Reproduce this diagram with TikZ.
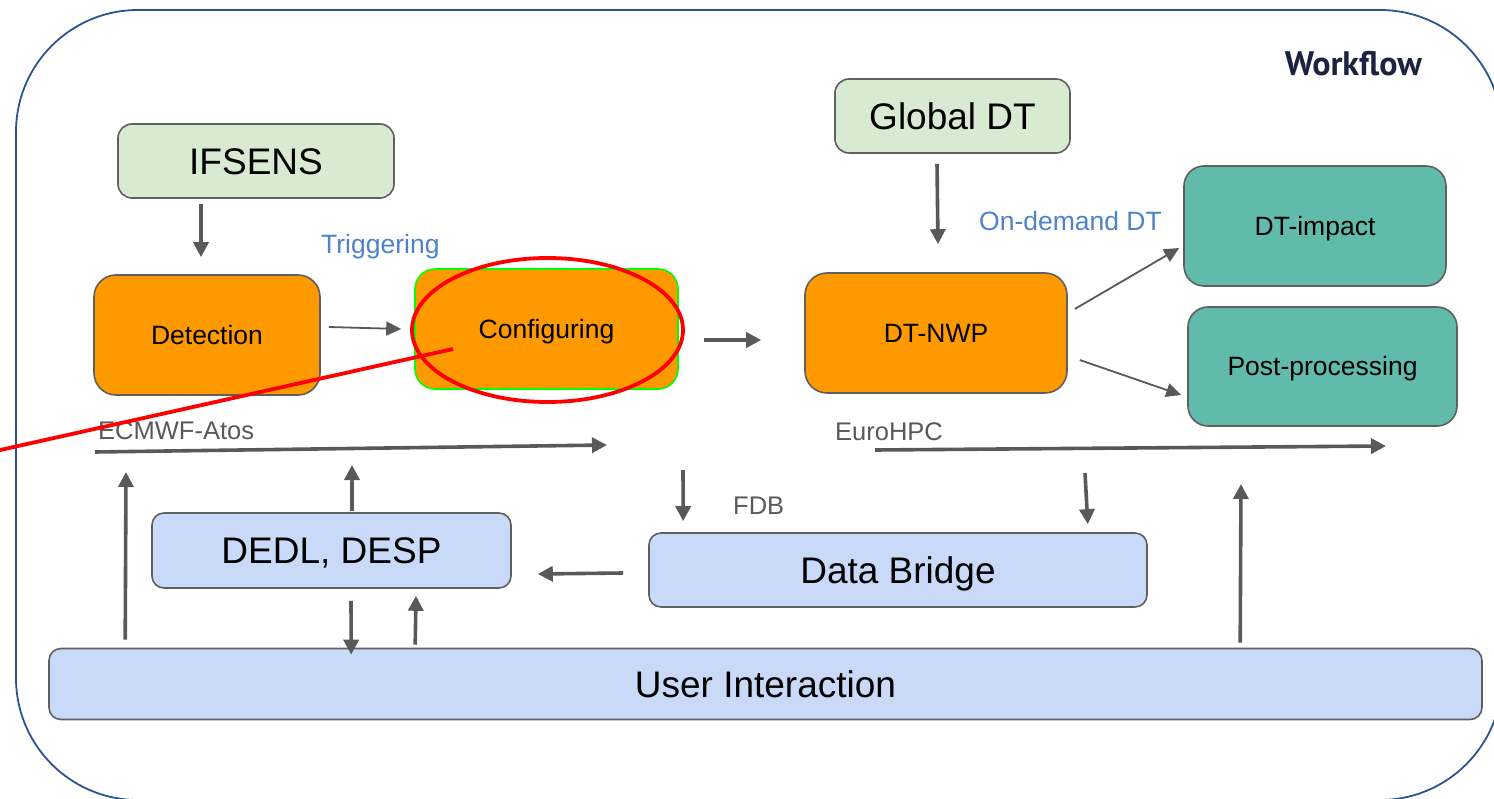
\documentclass[tikz,border=0pt]{standalone}
\usepackage{fontspec}
\setmainfont{Liberation Sans}
\newfontfamily\headfont{PT Sans}
\usetikzlibrary{arrows.meta,calc}

\definecolor{frameblue}{HTML}{2A5590}
\definecolor{boxline}{HTML}{5F5F5F}
\definecolor{arrgrey}{HTML}{595959}
\definecolor{lightgreen}{HTML}{D9EAD3}
\definecolor{orangefill}{HTML}{FF9900}
\definecolor{tealfill}{HTML}{61BBAB}
\definecolor{bluefill}{HTML}{C9DAF8}
\definecolor{labelblue}{HTML}{4F83C4}
\definecolor{titlenavy}{HTML}{1C2340}
\definecolor{markred}{HTML}{FF0000}
\definecolor{brightgreen}{HTML}{00FF00}

\begin{document}
\begin{tikzpicture}[x=1pt,y=-1pt,
  box/.style={draw=boxline, line width=1.6pt, rounded corners=14pt, inner sep=0pt,
              text=black, text depth=0pt},
  bigtxt/.style={font=\fontsize{37}{40}\selectfont, text height=26.5pt},
  smalltxt/.style={font=\fontsize{26.5}{30}\selectfont, text height=19pt},
  lbl/.style={inner sep=0pt, text depth=0pt},
  bluelbl/.style={lbl, text=labelblue, font=\fontsize{26.5}{30}\selectfont, text height=19pt},
  greylbl/.style={lbl, text=arrgrey, font=\fontsize{25.5}{30}\selectfont, text height=18.3pt},
  thickarr/.style={draw=arrgrey, line width=3.6pt,
                   -{Triangle[length=15pt,width=15pt]}},
  thinarr/.style={draw=arrgrey, line width=1.8pt,
                  -{Triangle[length=15pt,width=14pt]}},
  redmark/.style={draw=markred, line width=3.8pt}
]
\useasboundingbox (0,0) rectangle (1494,799);
\clip (0,0) rectangle (1494,799);

% outer frame
\draw[frameblue, line width=1.8pt, rounded corners=122pt] (16,10) rectangle (1502,800);

% title
\node[lbl, anchor=east, text=titlenavy, text height=23.8pt,
      font=\headfont\bfseries\fontsize{34}{36}\selectfont]
  (title) at (1422,64) {Workflow};

% boxes
\node[box, bigtxt, fill=lightgreen, minimum width=276pt, minimum height=74pt]
  (ifsens) at (256,161) {IFSENS};
\node[box, bigtxt, fill=lightgreen, minimum width=235pt, minimum height=74pt]
  (gdt) at (952.5,116) {Global DT};
\node[box, smalltxt, fill=orangefill, rounded corners=22pt, minimum width=226pt, minimum height=120pt]
  (det) at (207,335) {Detection};
\node[box, smalltxt, fill=orangefill, draw=brightgreen, rounded corners=20pt, minimum width=263pt, minimum height=120pt]
  (conf) at (546.5,329) {Configuring};
\node[box, smalltxt, fill=orangefill, rounded corners=22pt, minimum width=262pt, minimum height=120pt]
  (nwp) at (936,333) {DT-NWP};
\node[box, smalltxt, fill=tealfill, rounded corners=20pt, minimum width=262pt, minimum height=120pt]
  (impact) at (1315,226) {DT-impact};
\node[box, smalltxt, fill=tealfill, rounded corners=20pt, minimum width=269pt, minimum height=119pt]
  (post) at (1322.5,366.5) {Post-processing};
\node[box, bigtxt, fill=bluefill, rounded corners=12pt, minimum width=359pt, minimum height=75pt]
  (dedl) at (331.5,550.5) {DEDL, DESP};
\node[box, bigtxt, fill=bluefill, rounded corners=12pt, minimum width=498pt, minimum height=74pt]
  (db) at (898,570) {Data Bridge};
\node[box, bigtxt, fill=bluefill, rounded corners=12pt, minimum width=1433pt, minimum height=71pt]
  (ui) at (765.5,684) {User Interaction};

% labels
\node[bluelbl, anchor=west] (trig) at (321,244.5) {Triggering};
\node[bluelbl, anchor=west] (ondemand) at (979,221) {On-demand DT};
\node[greylbl, anchor=west] (ecmwf) at (98,430.5) {ECMWF-Atos};
\node[greylbl, anchor=west] (eurohpc) at (835,431) {EuroHPC};
\node[greylbl, anchor=west] (fdb) at (733,505.5) {FDB};

% free ends of connectors
\coordinate (ecA) at (95,452);
\coordinate (ecB) at (607,445);
\coordinate (euA) at (875,450);
\coordinate (euB) at (1386,446);
\coordinate (upA) at (126,472);
\coordinate (upB) at (352,465);
\coordinate (fdbtop) at (683,470);
\coordinate (hpctop) at (1085,473);
\coordinate (upC) at (1241,484);

% connectors
\draw[thickarr] ($(ifsens.south)+(-55,5)$) -- ($(det.north)+(-6,-17)$);
\draw[thinarr]  ($(det.east)+(8,-8)$) -- ($(conf.west)+(-13,0)$);
\draw[thickarr] ($(conf.east)+(25,11)$) -- ($(nwp.west)+(-43,7)$);
\draw[thickarr] ($(gdt.south)+(-15.5,10)$) -- ($(nwp.north)+(2,-28)$);
\draw[thinarr]  ($(nwp.east)+(7,-24)$) -- ($(impact.west)+(-4,22)$);
\draw[thinarr]  ($(nwp.east)+(12,27)$) -- ($(post.west)+(-6,28.5)$);
\draw[thickarr] (ecA) -- (ecB);
\draw[thickarr] (euA) -- (euB);
\draw[thickarr] ($(ui.north west)+(77,-8)$) -- (upA);
\draw[thickarr] ($(dedl.north)+(20.5,-1)$) -- (upB);
\draw[thickarr] ($(dedl.south)+(19.5,12)$) -- ($(ui.north west)+(303,7)$);
\draw[thickarr] ($(ui.north west)+(367,-3)$) -- ($(dedl.south)+(84.5,7)$);
\draw[thickarr] (fdbtop) -- ($(db.north west)+(35,-11)$);
\draw[thickarr] ($(db.west)+(-25,3)$) -- ($(dedl.east)+(26,23.5)$);
\draw[thickarr] (hpctop) -- ($(db.north east)+(-60,-8)$);
\draw[thickarr] ($(ui.north west)+(1192,-5)$) -- (upC);

% red highlight
\draw[redmark] (547.5,330) ellipse [x radius=135.5, y radius=72];
\draw[redmark] (453,349) -- (-20,454.5);
\end{tikzpicture}
\end{document}
